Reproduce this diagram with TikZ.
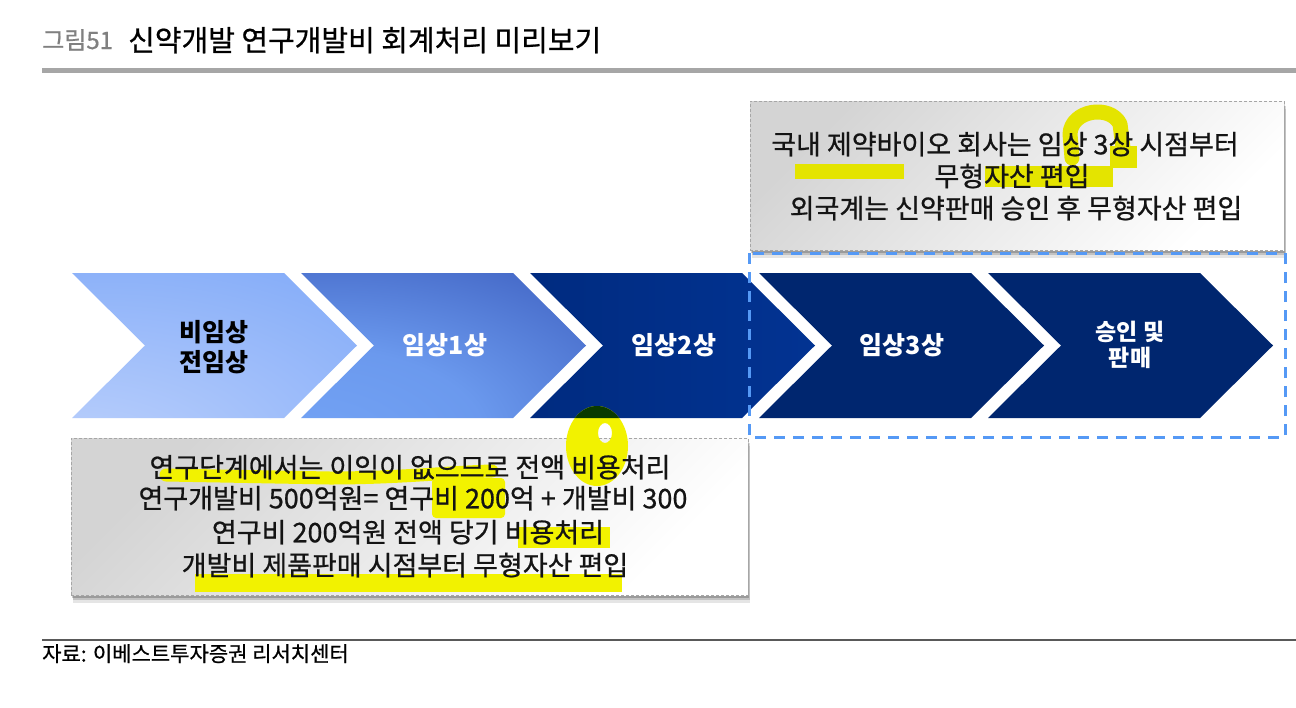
\documentclass[tikz,border=0pt]{standalone}
\usepackage{fontspec}
\newfontfamily\kr{Noto Sans CJK KR}
\newfontfamily\krm{Noto Sans CJK KR}[FakeBold=0.7]
\usetikzlibrary{shadows}
\definecolor{c1light}{HTML}{C4D6FC}
\definecolor{c1mid}{HTML}{7BA6F8}
\definecolor{c2light}{HTML}{76A6F7}
\definecolor{c2mid}{HTML}{5A86E0}
\definecolor{c2dark}{HTML}{2A44A8}
\definecolor{c3a}{HTML}{002B80}
\definecolor{c3b}{HTML}{023392}
\definecolor{navy}{HTML}{00266F}
\definecolor{dashblue}{HTML}{5599F5}
\definecolor{hl}{HTML}{F2F200}
\definecolor{hltwo}{HTML}{E4E400}
\definecolor{hldark}{HTML}{0A3A00}
\definecolor{boxgray}{HTML}{D4D4D4}
\pgfdeclareradialshading{shadeone}{\pgfpoint{-30bp}{-48bp}}{color(0bp)=(c1light); color(40bp)=(c1mid!55!c1light); color(72bp)=(c1mid); color(140bp)=(c1mid)}
\pgfdeclareradialshading{shadetwo}{\pgfpoint{-30bp}{-40bp}}{color(0bp)=(c2light); color(30bp)=(c2light!60!c2mid); color(58bp)=(c2mid!55!c2dark); color(88bp)=(c2dark); color(130bp)=(c2dark)}
\tikzset{
  chev/.style={insert path={(#1,273) -- ++(212,0) -- ++(73,72.5) -- ++(-73,72.5) -- ++(-212,0) -- ++(73,-72.5) -- cycle}},
  chevtxt/.style={font=\kr\bfseries\fontsize{25}{29}\selectfont, text=white, anchor=base, inner sep=0},
  chevsmall/.style={chevtxt, font=\kr\bfseries\fontsize{23}{27}\selectfont},
  boxtxt/.style={font=\krm\fontsize{27}{31}\selectfont, anchor=base, inner sep=0, text=black!92},
  graybox/.style={draw=black!35, line width=0.8, dash pattern=on 3pt off 2pt,
     top color=boxgray, bottom color=white, shading angle=45, inner sep=0,
     general shadow={fill=black, opacity=0.10, shadow xshift=2pt, shadow yshift=-8pt},
     general shadow={fill=black, opacity=0.15, shadow xshift=2pt, shadow yshift=-5pt},
     general shadow={fill=black, opacity=0.20, shadow xshift=1pt, shadow yshift=-2.5pt}},
  loop/.style={insert path={(597,446) ellipse [x radius=31, y radius=40] (605,433) ellipse [x radius=7, y radius=10]}},
}
\begin{document}
\begin{tikzpicture}[x=1pt,y=-1pt]
\useasboundingbox (0,0) rectangle (1296,707);
\fill[white] (0,0) rectangle (1296,707);
% title
\node[anchor=base west, inner sep=0, font=\krm\fontsize{24}{28}\selectfont, text=black!50] (fig) at (42,49) {그림51};
\node[anchor=base west, inner sep=0, font=\krm\fontsize{29}{33}\selectfont] (title) at (128,51) {신약개발 연구개발비 회계처리 미리보기};
\fill[black!35] (42,68) rectangle (1296,73);
% chevrons
\shade[shading=shadeone, chev=72];
\shade[shading=shadetwo, chev=301];
\shade[left color=c3a, right color=c3b, chev=530];
\fill[navy, chev=759];
\fill[navy, chev=988];
% boxes
\node[graybox, minimum width=534, minimum height=149] (topbox) at (1017,175.5) {};
\node[graybox, minimum width=677, minimum height=157] (botbox) at (409.5,516.5) {};
\draw[dashblue, line width=3, dash pattern=on 11pt off 8pt] (749,253) rectangle (1285,437);
% highlighter marks (under the text)
\fill[hltwo] (795,164) rectangle (904,179);
\draw[hltwo, line width=15, line cap=round, line join=round] (1072,158) -- (1070,134) .. controls (1071,110) and (1110,104) .. (1120,124) -- (1124,156);
\fill[hltwo] (985,166) rectangle (1113,187);
\fill[hltwo] (1110,146) rectangle (1137,168);
\draw[hl, line width=13, line cap=round] (166,475) -- (330,478) .. controls (400,478) and (450,472) .. (492,471);
\fill[hl, rounded corners=4] (432,478) rectangle (505,518);
\fill[hl] (518,527) rectangle (610,548);
\fill[hl] (195,574) rectangle (622,592);
\fill[hl, even odd rule, loop];
\begin{scope}
\clip[chev=530];
\fill[hldark, even odd rule, loop];
\end{scope}
% chevron texts
\node[chevtxt, text=black] (c1) at (214,341.5) {비임상};
\node[chevtxt, text=black] (c1b) at (214,371.5) {전임상};
\node[chevtxt] (c2) at (445,354.5) {임상1상};
\node[chevtxt] (c3) at (674,354.5) {임상2상};
\node[chevtxt] (c4) at (902,354.5) {임상3상};
\node[chevsmall] (c5) at (1130,340.7) {승인 및};
\node[chevsmall] (c5b) at (1130,366.7) {판매};
% box texts
\node[boxtxt] (t1) at (1005,154.3) {국내 제약바이오 회사는 임상 3상 시점부터};
\node[boxtxt] (t2) at (1012,186.3) {무형자산 편입};
\node[boxtxt] (t3) at (1016,218.3) {외국계는 신약판매 승인 후 무형자산 편입};
\node[boxtxt] (b1) at (410,477.3) {연구단계에서는 이익이 없으므로 전액 비용처리};
\node[boxtxt] (b2) at (413,508.3) {연구개발비 500억원= 연구비 200억 + 개발비 300};
\node[boxtxt] (b3) at (408,542.3) {연구비 200억원 전액 당기 비용처리};
\node[boxtxt] (b4) at (405,575.3) {개발비 제품판매 시점부터 무형자산 편입};
% footer
\draw[black!65, line width=1.5] (42,640) -- (1296,640);
\node[anchor=base west, inner sep=0, font=\krm\fontsize{21}{24}\selectfont] (src) at (42,661.5) {자료: 이베스트투자증권 리서치센터};
\end{tikzpicture}
\end{document}
